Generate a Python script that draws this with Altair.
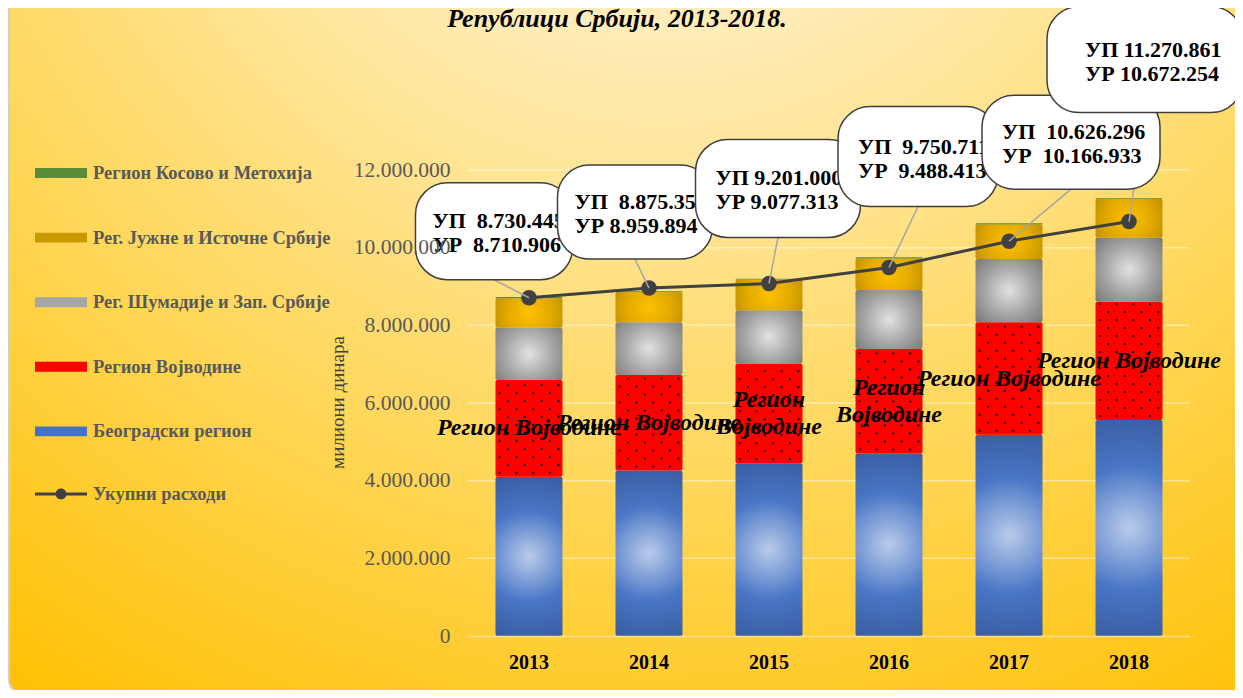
import altair as alt
import pandas as pd

# ---------------- data ----------------
years = ["2013", "2014", "2015", "2016", "2017", "2018"]
beograd = [4100000, 4260000, 4450000, 4700000, 5180000, 5560000]
vojvodina = [2490000, 2460000, 2570000, 2690000, 2900000, 3050000]
sumadija = [1350000, 1360000, 1370000, 1520000, 1630000, 1650000]
juzna = [760445, 775356, 791000, 810711, 886296, 990861]
kosovo = [30000, 20000, 20000, 30000, 30000, 20000]
up_total = [8730445, 8875356, 9201000, 9750711, 10626296, 11270861]
ur_total = [8710906, 8959894, 9077313, 9488413, 10166933, 10672254]
up_sep = [" \u00a0", " \u00a0", " ", " \u00a0", " \u00a0", " "]
ur_sep = [" \u00a0", " ", " ", " \u00a0", " \u00a0", " "]
vojv_labels = ["Регион Војводине", "Регион Војводине", "Регион\nВојводине",
               "Регион\nВојводине", "Регион Војводине", "Регион Војводине"]
series_names = ["Београдски регион", "Регион Војводине", "Рег. Шумадије и Зап. Србије",
                "Рег. Јужне и Источне Србије", "Регион Косово и Метохија"]
series_values = [beograd, vojvodina, sumadija, juzna, kosovo]
line_name = "Укупни расходи"
y_ticks = [0, 2000000, 4000000, 6000000, 8000000, 10000000, 12000000]
title_text = "Републици Србији, 2013-2018."
y_title = "милиони динара"

# ---------------- layout / style ----------------
W, H = 722, 466
PAD = {"left": 460, "top": 162, "right": 45, "bottom": 54}
SERIF = "Liberation Serif"
BAR_W = 67
box_dx = [-35, -14, 9, 29, 62, 16]
box_w = [157, 155, 165, 160, 178, 196]
box_top = [-115, -123, -144, -161, -146, -215]
box_bot = [-18, -29, -46, -61, -52, -109]
text_pad = [17, 17, 20, 20, 20, 38]
CALLOUT_LH = 24

def fmt(v):
    return f"{v:,}".replace(",", ".")

def radial(stops, cx=0.5, cy=0.5, r=0.75):
    return alt.RadialGradient(gradient="radial", x1=cx, y1=cy, r1=0, x2=cx, y2=cy, r2=r,
                              stops=[alt.GradientStop(offset=o, color=c) for o, c in stops])

fills = [
    radial([(0, "#B9CBEA"), (0.4, "#4A76C6"), (1, "#2C4A85")], cy=0.5, r=0.72),
    "#FF0000",
    radial([(0, "#E2E2E2"), (0.5, "#A6A6A6"), (1, "#737373")], r=0.72),
    radial([(0, "#FFC000"), (0.5, "#E0A800"), (1, "#AD8200")], r=0.7),
    "#5B8C3A",
]
legend_colors = ["#4472C4", "#FF0000", "#A6A6A6", "#C99A00", "#5B8C3A"]

# ---------------- tables ----------------
rows = []
for si, (name, vals) in enumerate(zip(series_names, series_values)):
    for yi, y in enumerate(years):
        rows.append({"year": y, "series": name, "value": vals[yi], "order": si})
long_df = pd.DataFrame(rows)

tot_df = pd.DataFrame({
    "year": years, "ur": ur_total,
    "label": [f"УП{a}{fmt(u)}\nУР{b}{fmt(r)}" for a, b, u, r in zip(up_sep, ur_sep, up_total, ur_total)],
})

vojv_df = pd.DataFrame({"year": years, "b": beograd, "v": vojvodina, "label": vojv_labels})

# dot texture of the Vojvodina segments
dot_step = 8 * 12000000 / H
dots = []
for yi, y in enumerate(years):
    r = 0
    while (r + 0.6) * dot_step < vojvodina[yi]:
        for c in range(8):
            if (c + r) % 2 == 0:
                dots.append({"year": y, "dy": beograd[yi] + (r + 0.5) * dot_step, "col": c})
        r += 1
dots_df = pd.DataFrame(dots)

# ---------------- encodings ----------------
X = alt.X("year:O", scale=alt.Scale(domain=years, paddingInner=0.4417, paddingOuter=0.229),
          axis=alt.Axis(title=None, labelAngle=0, labelFont=SERIF, labelFontSize=20,
                        labelFontWeight="bold", labelColor="black", labelPadding=16,
                        ticks=False, domain=True, domainColor="#F8DE8E", domainWidth=1.5,
                        zindex=1))
YS = alt.Scale(domain=[0, 12000000], nice=False)
Y_AXIS = alt.Axis(values=y_ticks, grid=False, ticks=False, domain=False,
                  labelExpr="replace(format(datum.value, ','), regexp(',', 'g'), '.')",
                  labelFont=SERIF, labelFontSize=21.5, labelColor="#595959", labelPadding=18,
                  title=y_title, titleFont=SERIF, titleFontSize=19, titleFontWeight="normal",
                  titleColor="#404040", titleAngle=-90, titleX=-131, titleY=232,
                  titleBaseline="middle", zindex=1)

def Y(field):
    return alt.Y(field, scale=YS, axis=Y_AXIS)

layers = []

# background panel
bg = alt.Chart(pd.DataFrame({"k": [0]})).mark_rect(
    fill=alt.RadialGradient(gradient="radial", x1=0.52, y1=0.0, r1=0, x2=0.52, y2=0.0, r2=0.95,
                            stops=[alt.GradientStop(offset=0, color="#FFFAEA"),
                                   alt.GradientStop(offset=0.3, color="#FFEBB2"),
                                   alt.GradientStop(offset=0.65, color="#FFD75A"),
                                   alt.GradientStop(offset=1, color="#FFC000")]),
    stroke="#CFCFCF", strokeWidth=2, cornerRadius=16,
).encode(x=alt.value(-459), x2=alt.value(800), y=alt.value(-200), y2=alt.value(525))
layers.append(bg)

# title (drawn as a text mark so it is not pushed by the callouts)
layers.append(alt.Chart(pd.DataFrame({"t": [title_text]})).mark_text(
    font=SERIF, fontSize=26, fontWeight="bold", fontStyle="italic", color="black",
    align="center", baseline="alphabetic"
).encode(x=alt.value(149), y=alt.value(-143), text="t:N"))

# grid lines
layers.append(alt.Chart(pd.DataFrame({"t": y_ticks[1:]})).mark_rule(
    color="#FFFFFF", opacity=0.45, strokeWidth=1.5).encode(y=Y("t:Q")))

base = alt.Chart(long_df).transform_stack(
    stack="value", groupby=["year"], as_=["y0", "y1"], sort=[alt.SortField("order", "ascending")]
)
for name, fill in zip(series_names, fills):
    layers.append(
        base.transform_filter(alt.datum.series == name)
        .mark_bar(fill=fill, cornerRadius=2)
        .encode(x=X, y=Y("y0:Q"), y2="y1:Q")
    )

# dot texture (one layer per sub-column)
for c in range(8):
    layers.append(
        alt.Chart(dots_df).transform_filter(alt.datum.col == c).mark_square(
            size=4, color="black", opacity=1, xOffset=-BAR_W / 2 + (c + 0.5) * BAR_W / 8
        ).encode(x=X, y=Y("dy:Q"))
    )

# total expenditure line
layers.append(alt.Chart(tot_df).mark_line(color="#404040", strokeWidth=3).encode(
    x=X, y=Y("ur:Q")))
layers.append(alt.Chart(tot_df).mark_circle(color="#404040", size=240, opacity=1).encode(
    x=X, y=Y("ur:Q")))

# Vojvodina labels
VLH = 27
vojv_base = alt.Chart(vojv_df).transform_calculate(mid="datum.b + datum.v / 2")
for two_lines in (False, True):
    layers.append(
        vojv_base.transform_filter(
            "indexof(datum.label, '\\n') >= 0" if two_lines else "indexof(datum.label, '\\n') < 0"
        ).mark_text(
            font=SERIF, fontSize=24, fontWeight="bold", fontStyle="italic", color="black",
            lineBreak="\n", lineHeight=VLH, baseline="middle", align="center",
            dy=-VLH / 2 if two_lines else 0
        ).encode(x=X, y=Y("mid:Q"), text="label:N")
    )

# callout connectors
for i, y in enumerate(years):
    layers.append(
        alt.Chart(tot_df).transform_filter(alt.datum.year == y).mark_rule(
            color="#A6A6A6", strokeWidth=1.5, x2Offset=box_dx[i], y2Offset=box_bot[i]
        ).encode(x=X, x2="year:O", y=Y("ur:Q"), y2="ur:Q")
    )

# callout boxes and texts
for i, y in enumerate(years):
    layers.append(
        alt.Chart(tot_df).transform_filter(alt.datum.year == y).mark_bar(
            fill="white", stroke="#3F3F3F", strokeWidth=1.5, cornerRadius=32,
            width=box_w[i], xOffset=box_dx[i], yOffset=box_top[i], y2Offset=box_bot[i]
        ).encode(x=X, y=Y("ur:Q"), y2="ur:Q")
    )
    layers.append(
        alt.Chart(tot_df).transform_filter(alt.datum.year == y).mark_text(
            font=SERIF, fontSize=22, fontWeight="bold", color="black", align="left",
            baseline="middle", lineBreak="\n", lineHeight=CALLOUT_LH,
            dx=box_dx[i] - box_w[i] / 2 + text_pad[i],
            dy=(box_top[i] + box_bot[i]) / 2 - CALLOUT_LH / 2 + 2
        ).encode(x=X, y=Y("ur:Q"), text="label:N")
    )

# legends
bar_path = "M-1,-0.19 L1,-0.19 L1,0.19 L-1,0.19 Z"
line_path = ("M-1,-0.06 L1,-0.06 L1,0.06 L-1,0.06 Z "
             "M-0.21,0 A0.21,0.21 0 1,1 0.21,0 A0.21,0.21 0 1,1 -0.21,0 Z")
leg_common = dict(orient="none", legendX=-433, title=None, symbolSize=2704,
                  symbolStrokeWidth=0, labelFont=SERIF, labelFontWeight="bold",
                  labelFontSize=18.5, labelColor="#595959", labelOffset=6, rowPadding=28.6,
                  padding=0, symbolOpacity=1, labelLimit=400, zindex=1)
legend_order = series_names[::-1]
layers.append(
    alt.Chart(pd.DataFrame({"series": legend_order})).mark_point(filled=True, opacity=0).encode(
        fill=alt.Fill("series:N",
                      scale=alt.Scale(domain=legend_order, range=legend_colors[::-1]),
                      legend=alt.Legend(symbolType=bar_path, legendY=-23, **leg_common)))
)
layers.append(
    alt.Chart(pd.DataFrame({"name": [line_name]})).mark_point(
        filled=True, opacity=0, color="#404040").encode(
        shape=alt.Shape("name:N", scale=alt.Scale(domain=[line_name], range=[line_path]),
                        legend=alt.Legend(symbolFillColor="#404040", legendY=298, **leg_common)))
)

chart = alt.layer(*layers).properties(
    width=W, height=H,
    autosize=alt.AutoSizeParams(type="none"),
    padding=PAD,
).configure_view(stroke=None).configure(background="white")

chart.save("out.html", embed_options={"renderer": "svg", "actions": False})
